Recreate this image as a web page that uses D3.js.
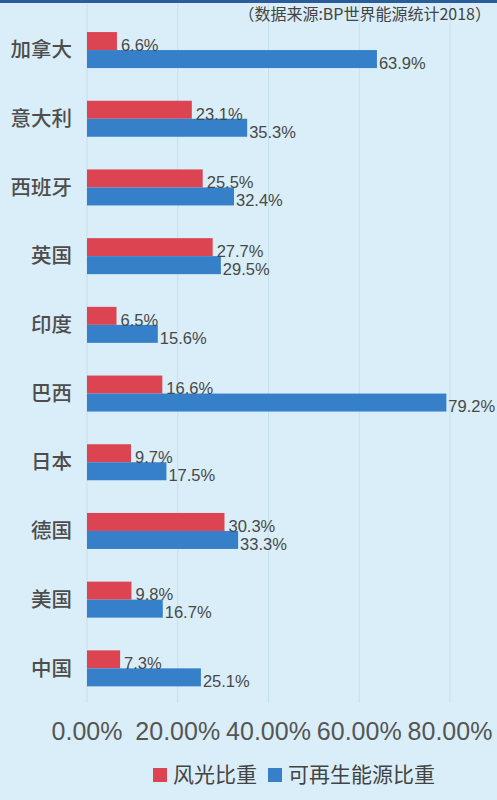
<!DOCTYPE html>
<html>
<head>
<meta charset="utf-8">
<script src="https://cdn.jsdelivr.net/npm/d3@7"></script>
<style>
  html, body { margin: 0; padding: 0; background: #d9eef8; }
  svg { display: block; font-family: "Noto Sans CJK SC", "Noto Sans", sans-serif; }
</style>
</head>
<body>
<div id="chart"></div>
<script>
// Data (BP 世界能源统计 2018)
const countries = ['加拿大', '意大利', '西班牙', '英国', '印度', '巴西', '日本', '德国', '美国', '中国'];
const windSolar = [6.6, 23.1, 25.5, 27.7, 6.5, 16.6, 9.7, 30.3, 9.8, 7.3];
const renewable = [63.9, 35.3, 32.4, 29.5, 15.6, 79.2, 17.5, 33.3, 16.7, 25.1];
const xTicks = [0, 20, 40, 60, 80];
const seriesNames = ['风光比重', '可再生能源比重'];
const seriesColors = ['#dc4452', '#3580c9'];
const sourceNote = '（数据来源:BP世界能源统计2018）';

const width = 497, height = 800;
const numFont = '"Liberation Sans", Arial, sans-serif';

const svg = d3.select('#chart').append('svg')
    .attr('width', width)
    .attr('height', height);

svg.append('rect')
    .attr('width', width).attr('height', height)
    .attr('fill', '#d9eef8');

// top band
svg.append('rect')
    .attr('width', width).attr('height', 3)
    .attr('fill', '#2b5c9c');

const x = d3.scaleLinear().domain([0, 80]).range([87, 450]);
const y = d3.scaleBand().domain(countries).range([15.7, 702.7]);
const barH = 18;

// gridlines
svg.append('g')
    .selectAll('line')
    .data(xTicks)
    .join('line')
    .attr('x1', d => x(d)).attr('x2', d => x(d))
    .attr('y1', 4).attr('y2', 703)
    .attr('stroke', '#c6dfec')
    .attr('stroke-width', 1);

// source note
svg.append('text')
    .attr('x', 491).attr('y', 20)
    .attr('text-anchor', 'end')
    .attr('font-size', 16)
    .attr('fill', '#444')
    .text(sourceNote);

const rows = countries.map((c, i) => ({c, w: windSolar[i], r: renewable[i]}));

const g = svg.append('g');

// wind+solar bars
g.selectAll('.bar-w')
    .data(rows)
    .join('rect')
    .attr('class', 'bar-w')
    .attr('x', x(0))
    .attr('y', d => y(d.c) + y.bandwidth() / 2 - barH)
    .attr('width', d => x(d.w) - x(0))
    .attr('height', barH)
    .attr('fill', seriesColors[0]);

// renewable bars
g.selectAll('.bar-r')
    .data(rows)
    .join('rect')
    .attr('class', 'bar-r')
    .attr('x', x(0))
    .attr('y', d => y(d.c) + y.bandwidth() / 2)
    .attr('width', d => x(d.r) - x(0))
    .attr('height', barH)
    .attr('fill', seriesColors[1]);

// value labels
g.selectAll('.lab-w')
    .data(rows)
    .join('text')
    .attr('class', 'lab-w')
    .attr('x', d => x(d.w) + 4)
    .attr('y', d => y(d.c) + y.bandwidth() / 2 - barH / 2 + 4)
    .attr('dy', '0.35em')
    .attr('font-family', numFont)
    .attr('font-size', 16.5)
    .attr('fill', '#484848')
    .text(d => d.w.toFixed(1) + '%');

g.selectAll('.lab-r')
    .data(rows)
    .join('text')
    .attr('class', 'lab-r')
    .attr('x', d => x(d.r) + 2)
    .attr('y', d => y(d.c) + y.bandwidth() / 2 + barH / 2 + 4)
    .attr('dy', '0.35em')
    .attr('font-family', numFont)
    .attr('font-size', 16.5)
    .attr('fill', '#484848')
    .text(d => d.r.toFixed(1) + '%');

// category labels
svg.append('g')
    .selectAll('text')
    .data(countries)
    .join('text')
    .attr('x', 72)
    .attr('y', d => y(d) + y.bandwidth() / 2)
    .attr('dy', '0.35em')
    .attr('text-anchor', 'end')
    .attr('font-size', 20.5)
    .attr('font-weight', 500)
    .attr('fill', '#4d4d4d')
    .text(d => d);

// x axis tick labels
svg.append('g')
    .selectAll('text')
    .data(xTicks)
    .join('text')
    .attr('x', d => x(d))
    .attr('y', 731)
    .attr('dy', '0.35em')
    .attr('text-anchor', 'middle')
    .attr('font-family', numFont)
    .attr('font-size', 25)
    .attr('fill', '#555')
    .text(d => d.toFixed(2) + '%');

// legend
const legendX = [153, 268];
const legend = svg.append('g')
    .selectAll('g')
    .data(seriesNames)
    .join('g')
    .attr('transform', (d, i) => 'translate(' + legendX[i] + ',775)');

legend.append('rect')
    .attr('x', 0).attr('y', -7)
    .attr('width', 14).attr('height', 14)
    .attr('fill', (d, i) => seriesColors[i]);

legend.append('text')
    .attr('x', 20)
    .attr('dy', '0.35em')
    .attr('font-size', 21)
    .attr('fill', '#444')
    .text(d => d);
</script>
</body>
</html>
